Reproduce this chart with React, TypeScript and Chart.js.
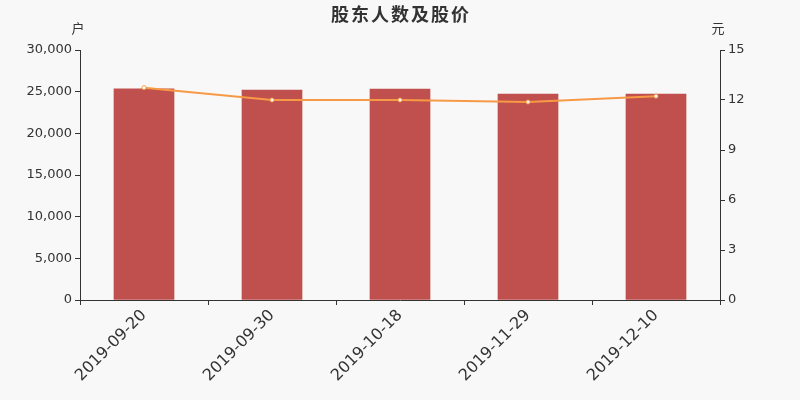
import React, { useEffect, useRef } from "react";
import { Chart, registerables } from "chart.js";

Chart.register(...registerables);

const categories = ["2019-09-20", "2019-09-30", "2019-10-18", "2019-11-29", "2019-12-10"];
const holders = [25350, 25200, 25320, 24720, 24720];
const prices = [12.74, 12.0, 12.0, 11.88, 12.23];
const leftTicks = [0, 5000, 10000, 15000, 20000, 25000, 30000];
const rightTicks = [0, 3, 6, 9, 12, 15];
const title = "股东人数及股价";
const leftUnit = "户";
const rightUnit = "元";

const BG = "#f8f8f8";
const AXIS = "#333333";
const FONT = "'DejaVu Sans', sans-serif";

export default function App() {
  const ref = useRef<HTMLCanvasElement | null>(null);

  useEffect(() => {
    if (!ref.current) return;
    const textPlugin = {
      id: "texts",
      beforeDraw(chart: any) {
        const ctx = chart.ctx;
        ctx.save();
        ctx.fillStyle = BG;
        ctx.fillRect(0, 0, chart.width, chart.height);
        ctx.restore();
      },
      afterDraw(chart: any) {
        const ctx = chart.ctx;
        const area = chart.chartArea;
        ctx.save();
        ctx.fillStyle = AXIS;
        ctx.textAlign = "center";
        ctx.textBaseline = "middle";
        ctx.font = "bold 18px 'Noto Sans CJK SC', sans-serif";
        (ctx as any).letterSpacing = "2px";
        ctx.fillText(title, chart.width / 2 + 1, 14);
        (ctx as any).letterSpacing = "0px";
        ctx.font = "13px 'Noto Sans CJK SC', sans-serif";
        ctx.fillText(leftUnit, area.left - 2, 28);
        ctx.fillText(rightUnit, area.right - 2, 28);
        ctx.restore();
      },
    };

    const chart = new Chart(ref.current, {
      type: "bar",
      data: {
        labels: categories,
        datasets: [
          {
            type: "line",
            label: "股价",
            data: prices,
            yAxisID: "y1",
            borderColor: "#f79a46",
            backgroundColor: "#ffffff",
            borderWidth: 2,
            pointRadius: 2,
            pointBorderWidth: 1,
            pointBorderColor: "#f79a46",
            pointBackgroundColor: "#ffffff",
            tension: 0,
            order: 0,
          } as any,
          {
            type: "bar",
            label: "股东人数",
            data: holders,
            yAxisID: "y",
            backgroundColor: "#c0504d",
            barThickness: 60,
            order: 1,
          },
        ],
      },
      options: {
        responsive: false,
        animation: false,
        devicePixelRatio: 1,
        layout: { padding: { top: 50, left: 0, right: 0, bottom: 0 } },
        plugins: {
          legend: { display: false },
          title: { display: false },
          tooltip: { enabled: false },
        },
        scales: {
          x: {
            offset: true,
            grid: {
              offset: true,
              drawOnChartArea: false,
              drawTicks: true,
              tickLength: 5,
              color: AXIS,
            },
            border: { color: AXIS, width: 1 },
            ticks: {
              color: AXIS,
              font: { family: FONT, size: 16 },
              minRotation: 45,
              maxRotation: 45,
              padding: 1,
            },
            afterFit(scale: any) {
              scale.height = 100;
            },
          },
          y: {
            position: "left",
            min: 0,
            max: 30000,
            afterBuildTicks(scale: any) {
              scale.ticks = leftTicks.map((v) => ({ value: v }));
            },
            grid: {
              drawOnChartArea: false,
              drawTicks: true,
              tickLength: 5,
              color: AXIS,
            },
            border: { color: AXIS, width: 1 },
            ticks: {
              color: AXIS,
              font: { family: FONT, size: 13 },
              padding: 3,
              callback: (v: any) => Number(v).toLocaleString("en-US"),
            },
            afterFit(scale: any) {
              scale.width = 80;
            },
          },
          y1: {
            position: "right",
            min: 0,
            max: 15,
            afterBuildTicks(scale: any) {
              scale.ticks = rightTicks.map((v) => ({ value: v }));
            },
            grid: {
              drawOnChartArea: false,
              drawTicks: true,
              tickLength: 5,
              color: AXIS,
            },
            border: { color: AXIS, width: 1 },
            ticks: {
              color: AXIS,
              font: { family: FONT, size: 13 },
              padding: 3,
            },
            afterFit(scale: any) {
              scale.width = 80;
            },
          },
        },
      },
      plugins: [textPlugin],
    });
    return () => chart.destroy();
  }, []);

  return (
    <div style={{ position: "fixed", left: 0, top: 0, width: 800, height: 400, background: BG }}>
      <canvas ref={ref} width={800} height={400} style={{ display: "block" }} />
    </div>
  );
}
